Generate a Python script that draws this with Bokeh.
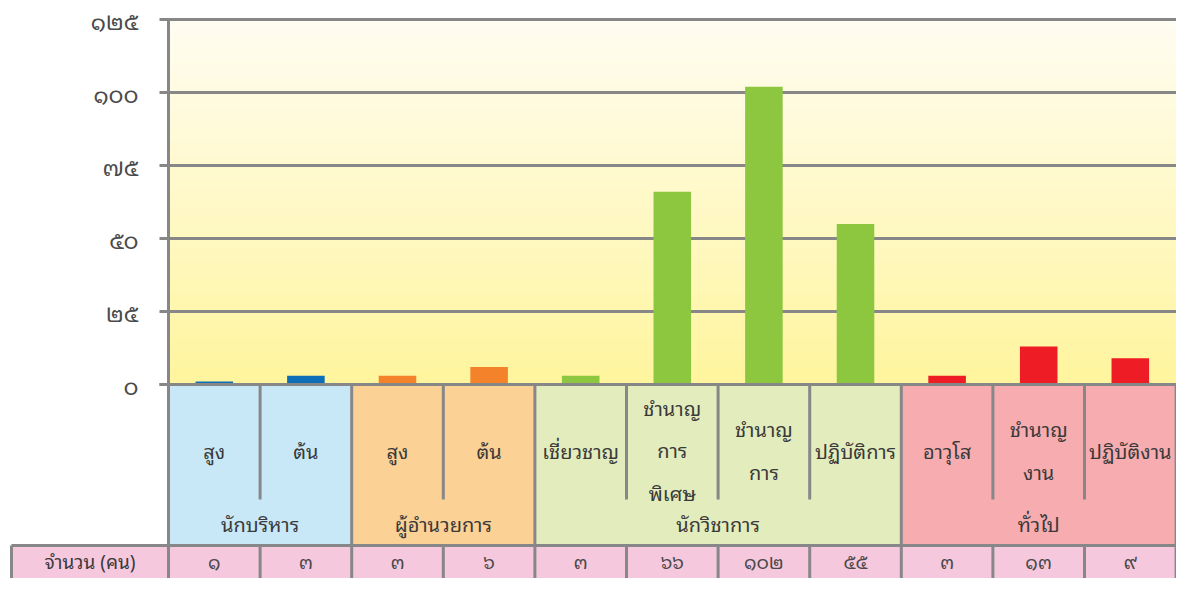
import numpy as np
from bokeh.plotting import figure
from bokeh.models import Range1d
from bokeh.core.properties import value
from bokeh.embed import file_html
from bokeh.resources import INLINE

# ---------------- data ----------------
category_labels = ["สูง", "ต้น", "สูง", "ต้น", "เชี่ยวชาญ", "ชำนาญ\nการ\nพิเศษ",
                   "ชำนาญ\nการ", "ปฏิบัติการ", "อาวุโส", "ชำนาญ\nงาน", "ปฏิบัติงาน"]
groups = ["นักบริหาร", "ผู้อำนวยการ", "นักวิชาการ", "ทั่วไป"]
group_sizes = [2, 2, 4, 3]
counts = [1, 3, 3, 6, 3, 66, 102, 55, 3, 13, 9]
count_labels = ["๑", "๓", "๓", "๖", "๓", "๖๖", "๑๐๒", "๕๕", "๓", "๑๓", "๙"]
y_ticks = [0, 25, 50, 75, 100, 125]
y_tick_labels = ["๐", "๒๕", "๕๐", "๗๕", "๑๐๐", "๑๒๕"]
row_label = "จำนวน (คน)"

# ---------------- styles ----------------
bar_colors = ["#0B6EB7", "#F4822A", "#8DC63F", "#EE1C25"]
cell_colors = ["#C8E8F8", "#FBD196", "#E3ECBD", "#F7ACB0"]
count_row_color = "#F6C8DE"
line_color = "#878787"
text_color = "#3A3A3A"
digit_color = "#4A4A4A"
FONT = value("Noto Sans Thai Looped, Loma, Garuda, Noto Sans Thai, Noto Sans")

# ---------------- layout (pixels) ----------------
W, H = 1176, 578
X0, XU = 168.0, 91.6      # canvas px of x=0, px per category
Y0, YU = 384.0, 2.92      # canvas px of y=0, px per unit


def px(sx):  # canvas x -> data x
    return (sx - X0) / XU


def py(sy):  # canvas y -> data y
    return -(sy - Y0) / YU


p = figure(width=W, height=H, output_backend="svg", toolbar_location=None,
           x_range=Range1d(-X0 / XU, (W - X0) / XU),
           y_range=Range1d(-(H - Y0) / YU, Y0 / YU),
           x_axis_type=None, y_axis_type=None, min_border=0,
           outline_line_color=None, background_fill_color="white",
           border_fill_color="white")
p.grid.visible = False

n = len(counts)
xr = n + 0.3
ymax = y_ticks[-1]

# gradient background of plot area
N = 64
img = np.empty((N, 1), dtype=np.uint32)
view = img.view(dtype=np.uint8).reshape((N, 1, 4))
top = np.array([255, 253, 242]); bot = np.array([255, 245, 158])
for k in range(N):
    t = k / (N - 1)
    c = bot * (1 - t) + top * t
    view[k, 0, :3] = c.astype(np.uint8)
    view[k, 0, 3] = 255
p.image_rgba(image=[img], x=0, y=0, dw=xr, dh=ymax)

# grid lines (with outward tick stubs)
p.segment(x0=[px(159)] * len(y_ticks), x1=[xr] * len(y_ticks),
          y0=y_ticks, y1=y_ticks, line_color=line_color, line_width=3)

# bars
grp_index = []
for g, s in enumerate(group_sizes):
    grp_index += [g] * s
xs = [i + 0.5 for i in range(n)]
p.vbar(x=xs, width=0.41, bottom=0, top=counts,
       fill_color=[bar_colors[g] for g in grp_index], line_color=None)

# table cells
y_sub = py(499)
y_cnt = py(545)
y_bot = py(600)
starts = np.cumsum([0] + group_sizes[:-1])
p.quad(left=list(starts), right=list(starts + np.array(group_sizes)),
       top=[0] * len(groups), bottom=[y_cnt] * len(groups),
       fill_color=cell_colors, line_color=None)
x_lab = px(11)
p.quad(left=[x_lab] + list(range(n)), right=[0] + list(range(1, n + 1)),
       top=[y_cnt] * (n + 1), bottom=[y_bot] * (n + 1),
       fill_color=count_row_color, line_color=None)

# table lines
group_bounds = set(int(v) for v in starts) | {n}
inner = [i for i in range(1, n) if i not in group_bounds]
p.segment(x0=inner, x1=inner, y0=[0] * len(inner), y1=[y_sub] * len(inner),
          line_color=line_color, line_width=3)
p.segment(x0=inner, x1=inner, y0=[y_cnt] * len(inner), y1=[y_bot] * len(inner),
          line_color=line_color, line_width=3)
gb = sorted(b for b in group_bounds if b != 0)
p.segment(x0=gb, x1=gb, y0=[0] * len(gb), y1=[y_bot] * len(gb),
          line_color=line_color, line_width=3)
p.segment(x0=[0], x1=[0], y0=[ymax], y1=[y_bot], line_color=line_color, line_width=3)
p.segment(x0=[x_lab, px(159)], x1=[xr, xr], y0=[y_cnt, 0], y1=[y_cnt, 0],
          line_color=line_color, line_width=3)
p.segment(x0=[x_lab], x1=[x_lab], y0=[y_cnt], y1=[y_bot], line_color=line_color, line_width=3)

# texts
p.text(x=[px(138)] * len(y_ticks), y=y_ticks, text=y_tick_labels,
       text_align="right", text_baseline="middle", text_font=FONT,
       text_font_size="23px", text_color=digit_color)
p.text(x=xs, y=[py(449)] * n, text=category_labels, text_align="center",
       text_baseline="middle", text_font=FONT, text_font_size="20px",
       text_color=text_color, text_line_height=1.33)
gc = [s + sz / 2 for s, sz in zip(starts, group_sizes)]
p.text(x=gc, y=[py(522)] * len(groups), text=groups, text_align="center",
       text_baseline="middle", text_font=FONT, text_font_size="20px",
       text_color=text_color)
p.text(x=xs, y=[py(560)] * n, text=count_labels, text_align="center",
       text_baseline="middle", text_font=FONT, text_font_size="19px",
       text_color=digit_color)
p.text(x=[(x_lab) / 2], y=[py(560)], text=[row_label], text_align="center",
       text_baseline="middle", text_font=FONT, text_font_size="19px",
       text_color=text_color)

open("out.html", "w").write(file_html(p, INLINE))
